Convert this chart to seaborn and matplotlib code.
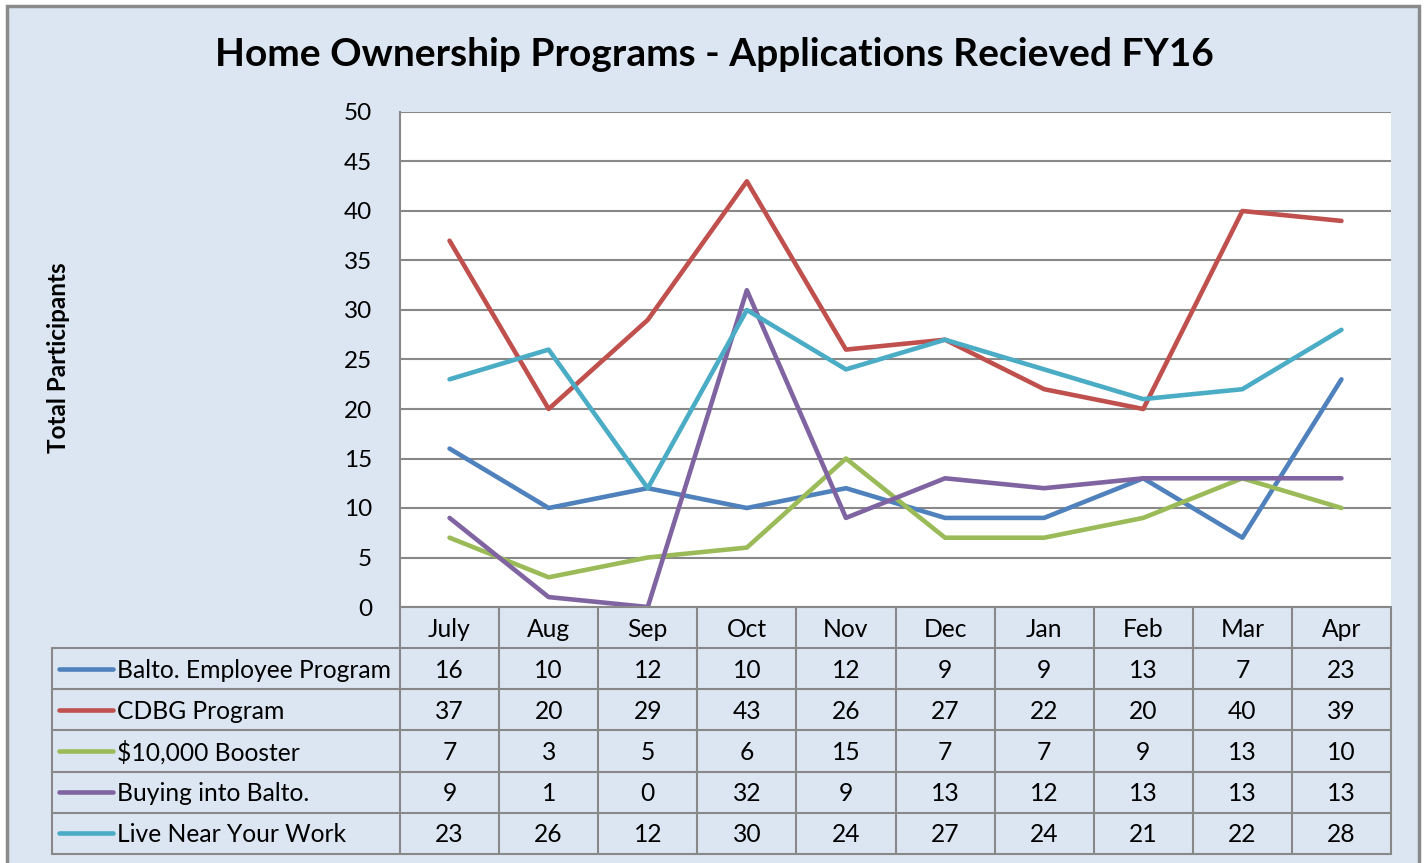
import matplotlib
matplotlib.use("Agg")
import matplotlib.pyplot as plt
import seaborn as sns
import pandas as pd
import numpy as np
from matplotlib.patches import Rectangle
from matplotlib.lines import Line2D

months = ["July", "Aug", "Sep", "Oct", "Nov", "Dec", "Jan", "Feb", "Mar", "Apr"]
series_names = ["Balto. Employee Program", "CDBG Program", "$10,000 Booster",
                "Buying into Balto.", "Live Near Your Work"]
balto_employee = [16, 10, 12, 10, 12, 9, 9, 13, 7, 23]
cdbg = [37, 20, 29, 43, 26, 27, 22, 20, 40, 39]
booster = [7, 3, 5, 6, 15, 7, 7, 9, 13, 10]
buying_into = [9, 1, 0, 32, 9, 13, 12, 13, 13, 13]
live_near = [23, 26, 12, 30, 24, 27, 24, 21, 22, 28]
series_values = [balto_employee, cdbg, booster, buying_into, live_near]
colors = ["#4F81BD", "#C0504D", "#9BBB59", "#8064A2", "#4BACC6"]
y_ticks = [0, 5, 10, 15, 20, 25, 30, 35, 40, 45, 50]

rows = []
for name, vals in zip(series_names, series_values):
    for i, v in enumerate(vals):
        rows.append({"idx": i, "month": months[i], "value": v, "series": name})
df = pd.DataFrame(rows)

sns.set_theme(style="white")
FONT = ["Lato", "DejaVu Sans"]
plt.rcParams["font.family"] = FONT

W, H = 1424, 863
fig = plt.figure(figsize=(W / 100, H / 100), dpi=100)
fig.patch.set_facecolor("white")

BG = "#DCE6F2"
GRID = "#888888"

def fx(px):
    return px / W

def fy(py):
    return 1 - py / H

# background axes holding the outer frame
bg = fig.add_axes([0, 0, 1, 1], zorder=-5)
bg.set_xlim(0, W)
bg.set_ylim(H, 0)
bg.axis("off")
bg.add_patch(Rectangle((7, 6), 1419 - 7, H + 10, facecolor=BG,
                       edgecolor="#8A8A8A", linewidth=2.5))

L, R, T, B = 400, 1391, 112, 607
ax = fig.add_axes([fx(L), fy(B), fx(R) - fx(L), fy(T) - fy(B)], zorder=2)
ax.set_facecolor("white")
sns.lineplot(data=df, x="idx", y="value", hue="series", hue_order=series_names,
             palette=colors, linewidth=3.3, legend=False, ax=ax, sort=False)
ax.set_xlim(-0.5, len(months) - 0.5)
ax.set_ylim(0, 50)
ax.set_yticks(y_ticks)
ax.set_yticklabels([str(t) for t in y_ticks], fontsize=17.5, color="black")
ax.set_xticks([])
ax.tick_params(axis="y", length=0, pad=20)
ax.yaxis.grid(True, color=GRID, linewidth=1.5)
ax.set_axisbelow(True)
for s in ["top", "right", "bottom"]:
    ax.spines[s].set_visible(False)
ax.spines["left"].set_color(GRID)
ax.spines["left"].set_linewidth(1.5)
ax.set_xlabel("")
ax.set_ylabel("")

fig.text(fx(59), fy(358), "Total Participants", rotation=90, ha="center", va="center",
         fontsize=17.5, fontweight="bold", color="black")
fig.text(fx(714), fy(55), "Home Ownership Programs - Applications Recieved FY16",
         ha="center", va="center", fontsize=28, fontweight="bold", color="black")

# data table
tx = fig.add_axes([0, 0, 1, 1], facecolor="none", zorder=3)
tx.set_xlim(0, W)
tx.set_ylim(H, 0)
tx.axis("off")

TL = 52
TB = 854
row_edges = [607] + list(np.linspace(648, TB, len(series_names) + 1))
col_w = (R - L) / len(months)
col_edges = [L + i * col_w for i in range(len(months) + 1)]
lw = 1.5
tx.plot([L, R], [row_edges[0], row_edges[0]], color=GRID, lw=lw)
for y in row_edges[1:]:
    tx.plot([TL, R], [y, y], color=GRID, lw=lw)
for x in col_edges:
    tx.plot([x, x], [row_edges[0], TB], color=GRID, lw=lw)
tx.plot([TL, TL], [row_edges[1], TB], color=GRID, lw=lw)

FS = 17.7
hy = (row_edges[0] + row_edges[1]) / 2 + 1.5
for i, m in enumerate(months):
    tx.text((col_edges[i] + col_edges[i + 1]) / 2, hy, m, ha="center", va="center",
            fontsize=FS, color="black")
for r, (name, vals, c) in enumerate(zip(series_names, series_values, colors)):
    cy = (row_edges[r + 1] + row_edges[r + 2]) / 2
    tx.add_line(Line2D([59, 113], [cy, cy], color=c, lw=3.3, solid_capstyle="round"))
    tx.text(117, cy + 1.5, name, ha="left", va="center", fontsize=FS, color="black")
    for i, v in enumerate(vals):
        tx.text((col_edges[i] + col_edges[i + 1]) / 2, cy + 1.5, str(v), ha="center",
                va="center", fontsize=FS, color="black")

fig.savefig("out.png", dpi=100, facecolor=fig.get_facecolor())
